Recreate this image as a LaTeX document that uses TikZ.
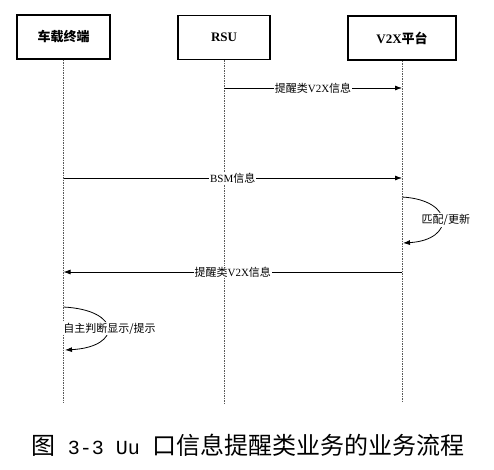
\documentclass[tikz,border=0pt]{standalone}
\usepackage{fontspec}
\setmainfont{Liberation Serif}
\newfontfamily\cjk{Noto Sans CJK SC}
\newfontfamily\monolat{Liberation Mono}
\usetikzlibrary{arrows.meta}

\begin{document}
\begin{tikzpicture}
        [x=1pt, y=-1pt,
        box/.style={draw, line width=1.1pt, minimum height=44pt, font=\bfseries\fontsize{13}{15}\selectfont},
        life/.style={gray!70!black, line width=0.9pt, dash pattern=on 1.5pt off 1pt},
        msg/.style={line width=0.8pt, -{Latex[length=7pt, width=5pt]}},
        txt/.style={fill=white, inner sep=1pt, font=\fontsize{11}{13}\selectfont}]

        \useasboundingbox (0,0) rectangle (494,469);

        \node[box, minimum width=93pt] (obu) at (63.5,37) {{\cjk 车载终端}};
        \node[box, minimum width=92pt] (rsu) at (224,37.5) {RSU};
        \node[box, minimum width=108pt] (plat) at (402,38) {V2X{\cjk 平台}};

        % end points of the lifelines
        \coordinate (obu-end) at (63.5,403);
        \coordinate (rsu-end) at (224,403);
        \coordinate (plat-end) at (402,403);

        % lifelines
        \draw[life] (obu) -- (obu-end);
        \draw[life] (rsu) -- (rsu-end);
        \draw[life] (plat) -- (plat-end);

        % message points on the lifelines
        \coordinate (rsu-a) at (224,88);
        \coordinate (plat-a) at (402,88);
        \coordinate (obu-b) at (63.5,178);
        \coordinate (plat-b) at (402,178);
        \coordinate (plat-c) at (402,197);
        \coordinate (plat-d) at (403,243);
        \coordinate (plat-e) at (402,272);
        \coordinate (obu-e) at (63.5,272);
        \coordinate (obu-f) at (63.5,307);
        \coordinate (obu-g) at (65,350);

        % messages
        \draw[msg] (rsu-a) -- (plat-a) node[txt, midway] {{\cjk 提醒类}V2X{\cjk 信息}};
        \draw[msg] (obu-b) -- (plat-b) node[txt, midway] {BSM{\cjk 信息}};
        \draw[msg] (plat-c) .. controls (455,200) and (455,240) .. (plat-d)
            node[txt, pos=0.5, xshift=4pt] {\cjk 匹配/更新};
        \draw[msg] (plat-e) -- (obu-e) node[txt, midway] {{\cjk 提醒类}V2X{\cjk 信息}};
        \draw[msg] (obu-f) .. controls (122,310) and (122,347) .. (obu-g)
            node[txt, pos=0.5, xshift=2pt] {\cjk 自主判断显示/提示};

        % caption
        \node (caption) at (248,445) {\cjk\fontsize{24}{24}\selectfont 图{\monolat\fontsize{20}{20}\selectfont\ 3-3 Uu\ }口信息提醒类业务的业务流程};

    \end{tikzpicture}
\end{document}
